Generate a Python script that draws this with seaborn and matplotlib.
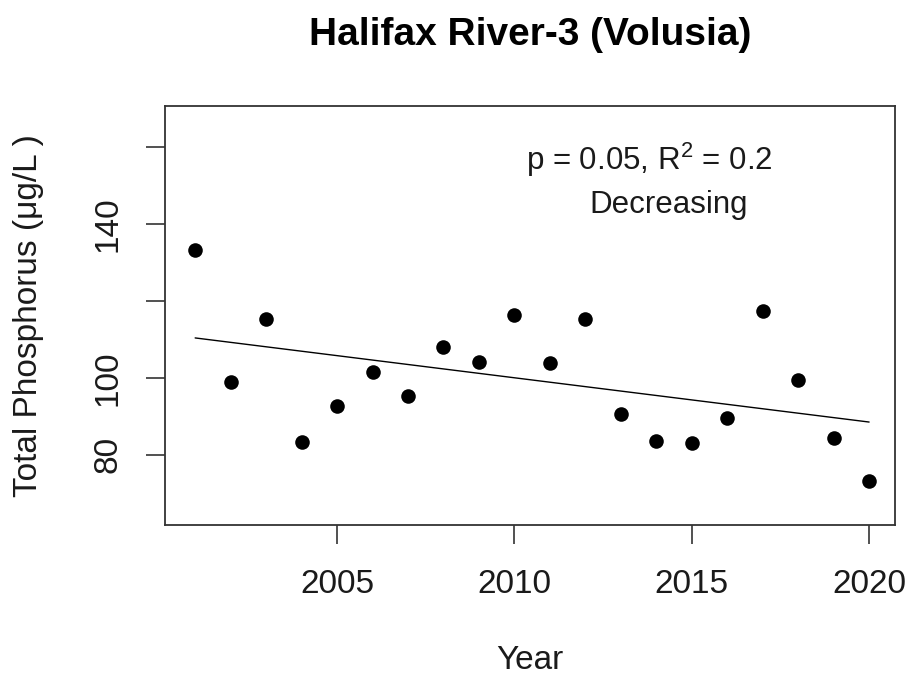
import numpy as np
import pandas as pd
import matplotlib
matplotlib.use("Agg")
import matplotlib.pyplot as plt
import seaborn as sns

years = [2001, 2002, 2003, 2004, 2005, 2006, 2007, 2008, 2009, 2010,
         2011, 2012, 2013, 2014, 2015, 2016, 2017, 2018, 2019, 2020]
tp = [133.1, 99.0, 115.2, 83.3, 92.7, 101.6, 95.3, 108.0, 104.2, 116.3,
      103.8, 115.2, 90.6, 83.7, 83.2, 89.6, 117.3, 99.5, 84.3, 73.2]
x_ticks = [2005, 2010, 2015, 2020]
y_ticks = [80, 100, 120, 140, 160]
y_tick_labels = ["80", "100", "", "140", ""]
title = "Halifax River-3 (Volusia)"
stats_line1 = "p = 0.05, R$^{2}$ = 0.2"
stats_line2 = "Decreasing"

df = pd.DataFrame({"Year": years, "TP": tp})

sns.set_theme(style="ticks")
plt.rcParams["font.family"] = ["Liberation Sans", "DejaVu Sans"]
plt.rcParams["mathtext.fontset"] = "custom"
plt.rcParams["mathtext.rm"] = "Liberation Sans"

W, H = 909, 679
fig = plt.figure(figsize=(W / 100, H / 100), dpi=100)
ax = fig.add_axes([165 / W, 1 - 525 / H, 730 / W, 419 / H])

sns.scatterplot(data=df, x="Year", y="TP", ax=ax, color="black", s=110,
                edgecolor="black", linewidth=0, zorder=3)
sns.regplot(data=df, x="Year", y="TP", ax=ax, scatter=False, ci=None,
            color="black", line_kws={"linewidth": 1.0})

txt = "#1a1a1a"
ax.set_xlim(2000.15, 2020.73)
ax.set_ylim(61.8, 170.6)
ax.set_xticks(x_ticks)
ax.set_xticklabels([str(v) for v in x_ticks], fontsize=24, color=txt)
ax.set_yticks(y_ticks)
ax.set_yticklabels(y_tick_labels, fontsize=24, color=txt, rotation=90, va="center")
ax.tick_params(axis="both", length=14, width=1.2, color="#333333")
ax.tick_params(axis="x", pad=18)
ax.tick_params(axis="y", pad=16)
for sp in ax.spines.values():
    sp.set_visible(True)
    sp.set_linewidth(1.3)
    sp.set_color("#333333")

ax.set_xlabel("Year", fontsize=24, color=txt)
ax.set_ylabel("Total Phosphorus (μg/L )", fontsize=24, color=txt)
ax.xaxis.set_label_coords(0.5, (525 - 645) / 419)
ax.yaxis.set_label_coords((44 - 165) / 730, 0.5)

fig.text(530 / W, 1 - 45 / H, title, fontsize=28, fontweight="bold",
         ha="center", va="baseline", color="black")
fig.text(649 / W, 1 - 170 / H, stats_line1, fontsize=22.5, ha="center",
         va="baseline", color=txt)
fig.text(669 / W, 1 - 213 / H, stats_line2, fontsize=22.5, ha="center",
         va="baseline", color=txt)

fig.savefig("out.png", dpi=100)
